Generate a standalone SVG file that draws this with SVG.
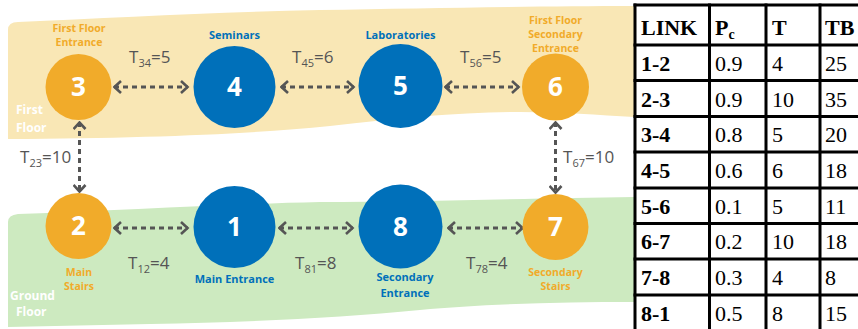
<svg xmlns="http://www.w3.org/2000/svg" width="858" height="329" viewBox="0 0 858 329">
<style>
.orange{fill:#F1AB2A}
.blue{fill:#0070BA}
.num{font-family:"Open Sans","DejaVu Sans",sans-serif;font-weight:700;font-size:26px;fill:#fff;text-anchor:middle}
.olab{font-family:"Open Sans","DejaVu Sans",sans-serif;font-weight:700;font-size:10.5px;fill:#F1AB2A;text-anchor:middle}
.blab{font-family:"Open Sans","DejaVu Sans",sans-serif;font-weight:700;font-size:11px;fill:#0070BA;text-anchor:middle}
.wlab{font-family:"Open Sans","DejaVu Sans",sans-serif;font-weight:700;font-size:12px;fill:#fff}
.elab{font-family:"Open Sans","DejaVu Sans",sans-serif;font-weight:400;font-size:17px;fill:#555}
.sub{font-size:11px}
.conn line{stroke:#555;stroke-width:3;stroke-dasharray:5 4;fill:none}
.tbl line{stroke:#000;stroke-width:3}
.cell{font-family:"Liberation Serif","Times New Roman",serif;font-size:22px;fill:#000}
.hd{font-weight:700}
</style>
<defs>
<marker id="chev" viewBox="0 0 10 14" markerWidth="10" markerHeight="14" refX="8.5" refY="7" orient="auto-start-reverse" markerUnits="userSpaceOnUse">
<path d="M1.5,1 L8,7 L1.5,13" fill="none" stroke="#555" stroke-width="2.6"/>
</marker>
</defs>
<g id="bands">
<path d="M8,30 Q8,22 18,22 C110,18 220,12 320,10 C430,8 540,6 634,6 L634,117 C600,115 560,112 520,112 C460,112 400,118 330,126 C250,134 150,138 8,139 Z" fill="#F9E7B5"/>
<path d="M8,222 Q8,215 18,214 C120,210 230,204 320,202 C420,202 540,198 634,197 L634,302 C560,302 480,304 420,310 C340,318 250,322 150,324 L8,327 Z" fill="#CDEAC0"/>
<text class="wlab" x="16" y="114">First</text>
<text class="wlab" x="16" y="132">Floor</text>
<text class="wlab" x="10" y="300">Ground</text>
<text class="wlab" x="16" y="316">Floor</text>
</g>
<g id="connectors" class="conn">
<line x1="114" y1="87" x2="188" y2="87" marker-start="url(#chev)" marker-end="url(#chev)"/>
<line x1="281" y1="87" x2="354" y2="87" marker-start="url(#chev)" marker-end="url(#chev)"/>
<line x1="445" y1="87" x2="519" y2="87" marker-start="url(#chev)" marker-end="url(#chev)"/>
<line x1="79.5" y1="122" x2="79.5" y2="192" marker-start="url(#chev)" marker-end="url(#chev)"/>
<line x1="555.5" y1="122" x2="555.5" y2="193" marker-start="url(#chev)" marker-end="url(#chev)"/>
<line x1="114" y1="228" x2="188" y2="228" marker-start="url(#chev)" marker-end="url(#chev)"/>
<line x1="279" y1="228" x2="353" y2="228" marker-start="url(#chev)" marker-end="url(#chev)"/>
<line x1="448" y1="228" x2="523" y2="228" marker-start="url(#chev)" marker-end="url(#chev)"/>
</g>
<g id="edge-labels">
<text class="elab" x="129" y="63">T<tspan class="sub" dy="4">34</tspan><tspan dy="-4">=5</tspan></text>
<text class="elab" x="292" y="63">T<tspan class="sub" dy="4">45</tspan><tspan dy="-4">=6</tspan></text>
<text class="elab" x="460" y="63">T<tspan class="sub" dy="4">56</tspan><tspan dy="-4">=5</tspan></text>
<text class="elab" x="20" y="163">T<tspan class="sub" dy="4">23</tspan><tspan dy="-4">=10</tspan></text>
<text class="elab" x="563" y="163">T<tspan class="sub" dy="4">67</tspan><tspan dy="-4">=10</tspan></text>
<text class="elab" x="128" y="269">T<tspan class="sub" dy="4">12</tspan><tspan dy="-4">=4</tspan></text>
<text class="elab" x="295" y="269">T<tspan class="sub" dy="4">81</tspan><tspan dy="-4">=8</tspan></text>
<text class="elab" x="466" y="269">T<tspan class="sub" dy="4">78</tspan><tspan dy="-4">=4</tspan></text>
</g>
<g id="node3">
<circle class="orange" cx="78.5" cy="87" r="33"/>
<text class="num" x="78.5" y="96">3</text>
<text class="olab" x="79" y="32">First Floor</text>
<text class="olab" x="79" y="46">Entrance</text>
</g>
<g id="node4">
<circle class="blue" cx="234.5" cy="87" r="41"/>
<text class="num" x="234.5" y="96">4</text>
<text class="blab" x="234.5" y="39">Seminars</text>
</g>
<g id="node5">
<circle class="blue" cx="400.5" cy="86" r="42"/>
<text class="num" x="400.5" y="95">5</text>
<text class="blab" x="400.5" y="39">Laboratories</text>
</g>
<g id="node6">
<circle class="orange" cx="555.5" cy="87" r="33.5"/>
<text class="num" x="555.5" y="96">6</text>
<text class="olab" x="555.5" y="24">First Floor</text>
<text class="olab" x="555.5" y="38">Secondary</text>
<text class="olab" x="555.5" y="52">Entrance</text>
</g>
<g id="node2">
<circle class="orange" cx="78.5" cy="226" r="33"/>
<text class="num" x="78.5" y="235">2</text>
<text class="olab" x="79" y="276">Main</text>
<text class="olab" x="79" y="290">Stairs</text>
</g>
<g id="node1">
<circle class="blue" cx="234.5" cy="227" r="41"/>
<text class="num" x="234.5" y="236">1</text>
<text class="blab" x="234.5" y="283">Main  Entrance</text>
</g>
<g id="node8">
<circle class="blue" cx="400.5" cy="226.5" r="42"/>
<text class="num" x="400.5" y="236">8</text>
<text class="blab" x="405" y="281">Secondary</text>
<text class="blab" x="405" y="297">Entrance</text>
</g>
<g id="node7">
<circle class="orange" cx="555.5" cy="227" r="33"/>
<text class="num" x="555.5" y="236">7</text>
<text class="olab" x="555.5" y="276">Secondary</text>
<text class="olab" x="555.5" y="290">Stairs</text>
</g>
<g id="table">
<rect x="635" y="5" width="240" height="330" fill="#fff"/>
<g class="tbl">
<line x1="635" y1="3.5" x2="635" y2="329"/>
<line x1="709.5" y1="3.5" x2="709.5" y2="329"/>
<line x1="766" y1="3.5" x2="766" y2="329"/>
<line x1="820" y1="3.5" x2="820" y2="329"/>
<line x1="633.5" y1="5" x2="858" y2="5"/>
<line x1="633.5" y1="45" x2="858" y2="45"/>
<line x1="633.5" y1="80.5" x2="858" y2="80.5"/>
<line x1="633.5" y1="116.5" x2="858" y2="116.5"/>
<line x1="633.5" y1="152" x2="858" y2="152"/>
<line x1="633.5" y1="188" x2="858" y2="188"/>
<line x1="633.5" y1="223.5" x2="858" y2="223.5"/>
<line x1="633.5" y1="259" x2="858" y2="259"/>
<line x1="633.5" y1="295" x2="858" y2="295"/>
</g>
<g class="cell">
<text class="hd" x="641" y="35">LINK</text>
<text class="hd" x="715" y="35">P<tspan font-size="14" dy="4">c</tspan></text>
<text class="hd" x="772" y="35">T</text>
<text class="hd" x="825" y="35">TB</text>
<text class="hd" x="641" y="71">1-2</text><text x="715" y="71">0.9</text><text x="772" y="71">4</text><text x="825" y="71">25</text>
<text class="hd" x="641" y="106.5">2-3</text><text x="715" y="106.5">0.9</text><text x="772" y="106.5">10</text><text x="825" y="106.5">35</text>
<text class="hd" x="641" y="142">3-4</text><text x="715" y="142">0.8</text><text x="772" y="142">5</text><text x="825" y="142">20</text>
<text class="hd" x="641" y="178">4-5</text><text x="715" y="178">0.6</text><text x="772" y="178">6</text><text x="825" y="178">18</text>
<text class="hd" x="641" y="213.5">5-6</text><text x="715" y="213.5">0.1</text><text x="772" y="213.5">5</text><text x="825" y="213.5">11</text>
<text class="hd" x="641" y="249">6-7</text><text x="715" y="249">0.2</text><text x="772" y="249">10</text><text x="825" y="249">18</text>
<text class="hd" x="641" y="285">7-8</text><text x="715" y="285">0.3</text><text x="772" y="285">4</text><text x="825" y="285">8</text>
<text class="hd" x="641" y="321">8-1</text><text x="715" y="321">0.5</text><text x="772" y="321">8</text><text x="825" y="321">15</text>
</g>
</g>
</svg>
